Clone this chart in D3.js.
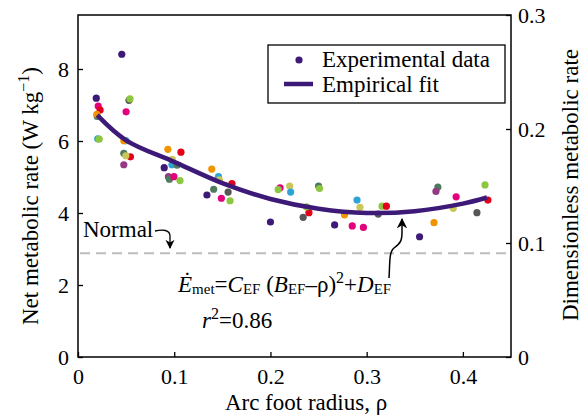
<!DOCTYPE html>
<html>
<head>
<meta charset="utf-8">
<script src="https://cdn.jsdelivr.net/npm/d3@7"></script>
<style>
    body { margin: 0; background: white; }
    text { font-family: "Liberation Serif", "Times New Roman", serif; fill: black; }
</style>
</head>
<body>
<svg id="chart" width="585" height="419"></svg>
<script>
// measured points (arc foot radius, net metabolic rate, subject colour)
const point_rho = [0.0455, 0.019, 0.021, 0.023, 0.020, 0.0195, 0.0205, 0.022, 0.053, 0.054,
    0.050, 0.0497, 0.0476, 0.0476, 0.0545, 0.0497, 0.0476, 0.0934, 0.107, 0.0976,
    0.103, 0.098, 0.0896, 0.094, 0.095, 0.0997, 0.106, 0.139, 0.146, 0.147,
    0.141, 0.160, 0.156, 0.134, 0.149, 0.158, 0.200, 0.234, 0.240, 0.2375,
    0.2667, 0.277, 0.285, 0.290, 0.293, 0.316, 0.3205, 0.312, 0.2966, 0.370,
    0.355, 0.390, 0.4146, 0.426, 0.210, 0.208, 0.220, 0.221, 0.250, 0.251,
    0.374, 0.372, 0.393, 0.423];
const point_rate = [8.41, 7.19, 6.97, 6.86, 6.68, 6.74, 6.06, 6.05, 7.13, 7.17,
    6.81, 6.01, 6.01, 5.66, 5.56, 5.59, 5.34, 5.77, 5.69, 5.34,
    5.33, 5.49, 5.26, 5.01, 4.94, 5.01, 4.90, 5.22, 5.01, 4.92,
    4.66, 4.82, 4.58, 4.50, 4.41, 4.34, 3.75, 3.88, 4.01, 4.17,
    3.67, 3.95, 3.64, 4.36, 4.16, 4.19, 4.19, 3.97, 3.60, 3.73,
    3.34, 4.13, 4.01, 4.36, 4.70, 4.65, 4.75, 4.58, 4.75, 4.68,
    4.72, 4.60, 4.45, 4.78];
const point_subject = ['purple', 'purple', 'magenta', 'red', 'dkgreen', 'orange', 'cyan', 'green', 'gray', 'green',
    'magenta', 'cyan', 'orange', 'dkgreen', 'red', 'olive', 'plum', 'orange', 'red', 'cyan',
    'dkgreen', 'olive', 'purple', 'plum', 'dkgreen', 'magenta', 'green', 'orange', 'cyan', 'olive',
    'dkgreen', 'red', 'gray', 'purple', 'magenta', 'green', 'purple', 'gray', 'red', 'green',
    'purple', 'orange', 'magenta', 'cyan', 'olive', 'green', 'red', 'gray', 'magenta', 'orange',
    'purple', 'olive', 'gray', 'red', 'magenta', 'green', 'olive', 'cyan', 'dkgreen', 'green',
    'dkgreen', 'plum', 'magenta', 'green'];

const subjects = ['purple', 'magenta', 'red', 'orange', 'cyan', 'green', 'dkgreen', 'olive', 'gray', 'plum'];
const subject_colors = ['#3e1a78', '#e4007c', '#e2001a', '#f29400', '#2ea4d6', '#8dc63f', '#4e7a5e', '#cbc65a', '#575756', '#943a82'];

// empirical fit
const fit_rho = [0.02, 0.05, 0.1, 0.15, 0.2, 0.25, 0.3, 0.35, 0.4, 0.425];
const fit_rate = [6.72, 6.02, 5.42, 4.83, 4.39, 4.12, 4.0, 4.05, 4.26, 4.43];

const normal_rate = 2.88;

const x_ticks = [0, 0.1, 0.2, 0.3, 0.4];
const y_ticks = [0, 2, 4, 6, 8];
const y2_ticks = [0, 0.1, 0.2, 0.3];

(() => {

    // define chart parameters
    const left = 78;
    const right = 511;
    const top = 15;
    const bottom = 357;
    const tick_font = '22px';
    const label_font = '23px';

    let svg = d3.select('#chart');

    let x_scale = d3.scaleLinear().domain([0, 0.45]).range([left, right]);
    let y_scale = d3.scaleLinear().domain([0, 9.5]).range([bottom, top]);
    let y2_scale = d3.scaleLinear().domain([0, 0.3]).range([bottom, top]);

    let colors = d3.scaleOrdinal().domain(subjects).range(subject_colors);

    // create axes, ticks pointing inward
    svg.append('g')
        .attr('transform', `translate(0, ${bottom})`)
        .call(d3.axisBottom(x_scale).tickValues(x_ticks).tickFormat(d3.format('')).tickSize(-5).tickSizeOuter(0).tickPadding(11))
        .call((g) => g.select('.domain').remove())
        .selectAll('text')
        .style('font-size', tick_font)
        .style('font-family', '"Liberation Serif", serif');

    svg.append('g')
        .attr('transform', `translate(${left}, 0)`)
        .call(d3.axisLeft(y_scale).tickValues(y_ticks).tickSize(-5).tickSizeOuter(0).tickPadding(9))
        .call((g) => g.select('.domain').remove())
        .selectAll('text')
        .style('font-size', tick_font)
        .style('font-family', '"Liberation Serif", serif');

    svg.append('g')
        .attr('transform', `translate(${right}, 0)`)
        .call(d3.axisRight(y2_scale).tickValues(y2_ticks).tickFormat(d3.format('')).tickSize(-5).tickSizeOuter(0).tickPadding(7))
        .call((g) => g.select('.domain').remove())
        .selectAll('text')
        .style('font-size', tick_font)
        .style('font-family', '"Liberation Serif", serif');

    svg.selectAll('.tick line').attr('stroke', 'black').attr('stroke-width', 1.3);

    // frame
    svg.append('rect')
        .attr('x', left)
        .attr('y', top)
        .attr('width', right - left)
        .attr('height', bottom - top)
        .attr('fill', 'none')
        .attr('stroke', 'black')
        .attr('stroke-width', 1.5);

    // normal walking level
    svg.append('line')
        .attr('x1', left + 2)
        .attr('x2', right)
        .attr('y1', y_scale(normal_rate))
        .attr('y2', y_scale(normal_rate))
        .attr('stroke', '#bdbdbd')
        .attr('stroke-width', 2)
        .attr('stroke-dasharray', '10,6');

    svg.append('text')
        .attr('x', 83)
        .attr('y', 237)
        .style('font-size', label_font)
        .text('Normal');

    // arrow defs
    svg.append('defs').append('marker')
        .attr('id', 'head')
        .attr('viewBox', '0 0 10 10')
        .attr('refX', 9)
        .attr('refY', 5)
        .attr('markerWidth', 7)
        .attr('markerHeight', 7)
        .attr('orient', 'auto')
        .append('path')
        .attr('d', 'M0,0 L10,5 L0,10 L3,5 Z')
        .attr('fill', 'black');

    svg.append('path')
        .attr('d', 'M155,231 C163,229 170,230 170,236 L170,248')
        .attr('fill', 'none')
        .attr('stroke', 'black')
        .attr('stroke-width', 1.3)
        .attr('marker-end', 'url(#head)');

    svg.append('path')
        .attr('d', 'M389,278 C390,262 389,252 394,248 C401,243 402,240 402,232 L402,219')
        .attr('fill', 'none')
        .attr('stroke', 'black')
        .attr('stroke-width', 1.5)
        .attr('marker-end', 'url(#head)');

    // data points
    let points = point_rho.map((r, i) => ({ rho: r, rate: point_rate[i], subject: point_subject[i] }));

    svg.append('g')
        .selectAll('circle')
        .data(points)
        .enter()
        .append('circle')
        .attr('cx', (d) => x_scale(d.rho))
        .attr('cy', (d) => y_scale(d.rate))
        .attr('r', 3.6)
        .attr('fill', (d) => colors(d.subject));

    // empirical fit
    let fit = fit_rho.map((r, i) => [r, fit_rate[i]]);

    svg.append('path')
        .datum(fit)
        .attr('d', d3.line().x((d) => x_scale(d[0])).y((d) => y_scale(d[1])).curve(d3.curveCatmullRom))
        .attr('fill', 'none')
        .attr('stroke', '#3e1a78')
        .attr('stroke-width', 4.5);

    // equation
    let eq = svg.append('text')
        .attr('x', 178)
        .attr('y', 292)
        .style('font-size', label_font);
    eq.append('tspan').style('font-style', 'italic').text('\u0116');
    eq.append('tspan').attr('dy', 2).style('font-size', '15px').text('met');
    eq.append('tspan').attr('dy', -2).text('=');
    eq.append('tspan').style('font-style', 'italic').text('C');
    eq.append('tspan').attr('dy', 2).style('font-size', '15px').text('EF');
    eq.append('tspan').attr('dy', -2).text(' (');
    eq.append('tspan').style('font-style', 'italic').text('B');
    eq.append('tspan').attr('dy', 2).style('font-size', '15px').text('EF');
    eq.append('tspan').attr('dy', -2).text('\u2013\u03c1)');
    eq.append('tspan').attr('dy', -9).style('font-size', '16px').text('2');
    eq.append('tspan').attr('dy', 9).text('+');
    eq.append('tspan').style('font-style', 'italic').text('D');
    eq.append('tspan').attr('dy', 2).style('font-size', '15px').text('EF');

    let r2 = svg.append('text')
        .attr('x', 202)
        .attr('y', 328)
        .style('font-size', label_font);
    r2.append('tspan').style('font-style', 'italic').text('r');
    r2.append('tspan').attr('dy', -9).style('font-size', '16px').text('2');
    r2.append('tspan').attr('dy', 9).text('=0.86');

    // legend
    svg.append('rect')
        .attr('x', 268)
        .attr('y', 45)
        .attr('width', 237)
        .attr('height', 58)
        .attr('fill', 'white')
        .attr('stroke', 'black')
        .attr('stroke-width', 1.3);

    svg.append('circle')
        .attr('cx', 299)
        .attr('cy', 60)
        .attr('r', 3.6)
        .attr('fill', '#3e1a78');

    svg.append('line')
        .attr('x1', 284)
        .attr('x2', 313)
        .attr('y1', 84)
        .attr('y2', 84)
        .attr('stroke', '#3e1a78')
        .attr('stroke-width', 4.5);

    svg.append('text').attr('x', 322).attr('y', 67).style('font-size', label_font).text('Experimental data');
    svg.append('text').attr('x', 322).attr('y', 92).style('font-size', label_font).text('Empirical fit');

    // axis titles
    svg.append('text')
        .attr('x', 306)
        .attr('y', 410)
        .style('font-size', label_font)
        .style('text-anchor', 'middle')
        .text('Arc foot radius, \u03c1');

    let y_title = svg.append('text')
        .attr('transform', 'translate(38, 196) rotate(-90)')
        .style('font-size', label_font)
        .style('text-anchor', 'middle');
    y_title.append('tspan').text('Net metabolic rate (W kg');
    y_title.append('tspan').attr('dy', -9).style('font-size', '16px').text('\u22121');
    y_title.append('tspan').attr('dy', 9).text(')');

    svg.append('text')
        .attr('transform', 'translate(578, 185) rotate(-90)')
        .style('font-size', label_font)
        .style('text-anchor', 'middle')
        .text('Dimensionless metabolic rate');

})();
</script>
</body>
</html>
